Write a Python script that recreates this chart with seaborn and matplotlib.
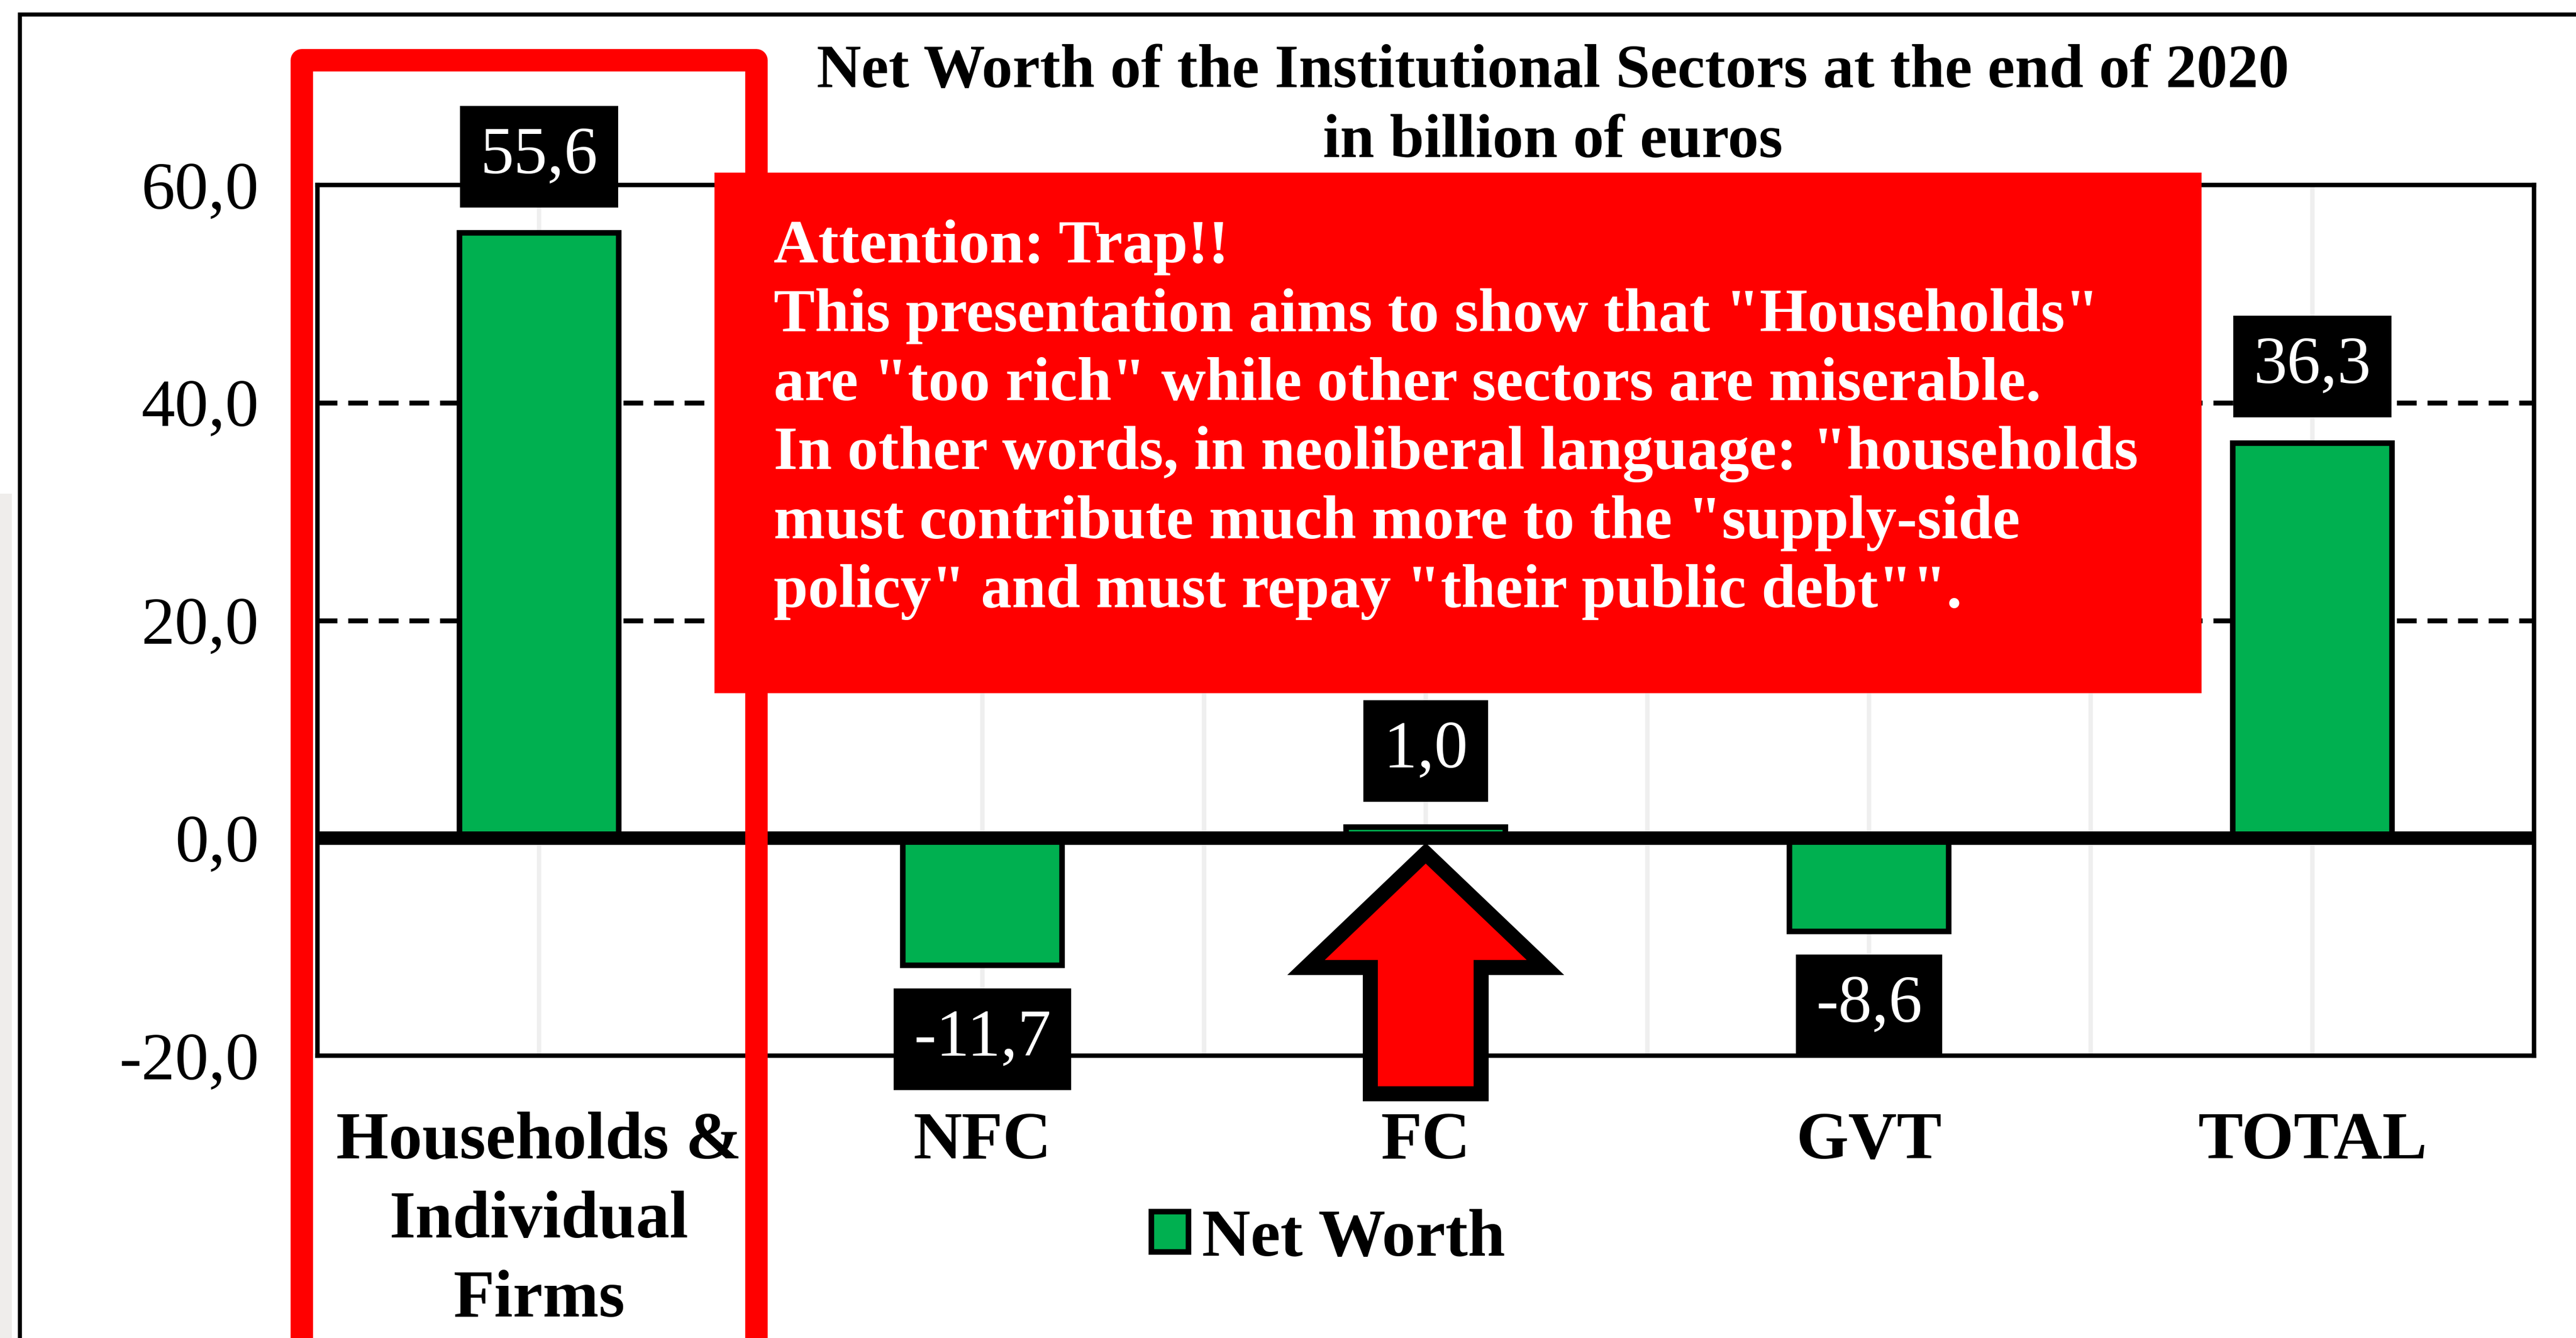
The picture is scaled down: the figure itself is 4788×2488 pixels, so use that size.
import numpy as np
import pandas as pd
import seaborn as sns
import matplotlib
matplotlib.use("Agg")
from matplotlib import pyplot as plt
from matplotlib.patches import Rectangle, FancyArrow

# data
sectors = ["Households &\nIndividual\nFirms", "NFC", "FC", "GVT", "TOTAL"]
net_worth = [55.6, -11.7, 1.0, -8.6, 36.3]
y_ticks = [-20, 0, 20, 40, 60]
series_name = "Net Worth"
title_text = "Net Worth of the Institutional Sectors at the end of 2020\nin billion of euros"
warning_text = ('Attention: Trap!!\n'
                'This presentation aims to show that "Households"\n'
                'are "too rich" while other sectors are miserable.\n'
                'In other words, in neoliberal language: "households\n'
                'must contribute much more to the "supply-side\n'
                'policy" and must repay "their public debt"".')

df = pd.DataFrame({"sector": sectors, "value": net_worth})

sns.set_theme(style="white")
plt.rcParams["font.family"] = ["Liberation Serif", "DejaVu Serif"]
plt.rcParams["text.color"] = "black"
plt.rcParams["xtick.color"] = "black"
plt.rcParams["ytick.color"] = "black"

W, H = 4788, 2488
fig = plt.figure(figsize=(W / 300, H / 300), dpi=300)
ax = fig.add_axes([590 / W, 1 - 1963 / H, 4120 / W, 1619 / H])

green = "#00B050"

# faint vertical guides at category centres and boundaries
for xv in np.arange(-0.5, len(sectors), 0.5):
    ax.axvline(xv, color="#efefef", lw=2, zorder=0)
for yv in [20, 40]:
    ax.axhline(yv, color="black", lw=2.2, ls=(0, (4, 2.2)), zorder=1)

sns.barplot(data=df, x="sector", y="value", color=green, edgecolor="black",
            linewidth=2.5, width=0.36, saturation=1, ax=ax, zorder=2)

ax.axhline(0, color="black", lw=6, zorder=3)

ax.set_ylim(-20, 60)
ax.set_xlim(-0.5, len(sectors) - 0.5)
ax.set_yticks(y_ticks)
ax.set_yticklabels([f"{v:.1f}".replace(".", ",") for v in y_ticks])
ax.set_xlabel("")
ax.set_ylabel("")
ax.tick_params(axis="y", length=0, pad=26, labelsize=30, labelcolor="black")
ax.tick_params(axis="x", length=0, pad=25, labelsize=30, labelcolor="black")
for t in ax.get_xticklabels():
    t.set_fontweight("bold")
    t.set_linespacing(1.38)
for s in ax.spines.values():
    s.set_color("black")
    s.set_linewidth(2)
    s.set_zorder(4)

# value labels in black boxes
for i, v in enumerate(net_worth):
    off = 34 if v >= 0 else -33
    ax.annotate(f"{v:.1f}".replace(".", ","), xy=(i, v), xytext=(0, off),
                textcoords="offset points", ha="center", va="center",
                fontsize=30, color="white", zorder=6, annotation_clip=False,
                bbox=dict(boxstyle="square,pad=0.3", fc="black", ec="none"))

# red arrow pointing at FC
fc_idx = sectors.index("FC")
arrow = FancyArrow(fc_idx, -23.5, 0, 22.1, width=0.25, head_width=0.54,
                   head_length=10.5, length_includes_head=True,
                   fc="#FF0000", ec="black", lw=6.7, clip_on=False, zorder=7)
ax.add_patch(arrow)

# legend
leg = ax.legend(handles=[ax.containers[0]], labels=[series_name], loc="center",
                bbox_to_anchor=(2469 / W, 1 - 2305 / H), bbox_transform=fig.transFigure,
                frameon=False, handlelength=0.55, handleheight=0.55,
                handletextpad=0.2, prop={"weight": "bold", "size": 30})

# title
fig.text(2886 / W, 1 - 82 / H, title_text, ha="center", va="top",
         fontsize=27.5, fontweight="bold", linespacing=1.33)

# red warning box
fig.patches.append(Rectangle((1328 / W, 1 - 1289 / H), 2764 / W, 968 / H,
                             transform=fig.transFigure, fc="#FF0000", ec="none", zorder=5))
fig.text(1438 / W, 1 - 408 / H, warning_text, ha="left", va="top", color="white",
         fontsize=27.5, fontweight="bold", linespacing=1.3, zorder=6)

# red outline around households
fig.patches.append(Rectangle((561 / W, 1 - 2500 / H), 845 / W, 2388 / H,
                             transform=fig.transFigure, fc="none", ec="#FF0000",
                             lw=10, joinstyle="round", zorder=8))

# outer frame and left strip
fig.patches.append(Rectangle((0, 0), 22 / W, 1570 / H, transform=fig.transFigure,
                             fc="#efedeb", ec="none", zorder=0))
fig.patches.append(Rectangle((37 / W, -0.1), 1.2, 1.1 - 27 / H, transform=fig.transFigure,
                             fc="none", ec="black", lw=1.8, zorder=1))

fig.savefig("out.png", dpi=300, facecolor="white")
